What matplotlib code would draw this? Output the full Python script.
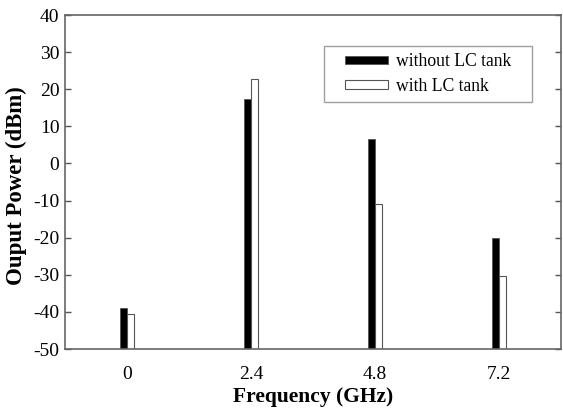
import matplotlib
matplotlib.use("Agg")
import matplotlib.pyplot as plt
from matplotlib.patches import Rectangle
from matplotlib.container import BarContainer
from matplotlib.legend_handler import HandlerPatch, update_from_first_child
import numpy as np

categories = ["0", "2.4", "4.8", "7.2"]
without_lc = [-39, 17.5, 6.6, -20.2]
with_lc = [-40.5, 22.8, -10.8, -30.3]
yticks = [-50, -40, -30, -20, -10, 0, 10, 20, 30, 40]

plt.rcParams['font.family'] = ['Liberation Serif', 'DejaVu Serif']
plt.rcParams['axes.unicode_minus'] = False

fig = plt.figure(figsize=(5.63, 4.09), dpi=100)
ax = fig.add_axes([65/563, 1 - 349/409, (561-65)/563, (349-15)/409])

x = np.arange(1, len(categories) + 1)
w = 0.06
ax.bar(x - w/2, [v + 50 for v in without_lc], width=w, bottom=-50, color='black',
       edgecolor='#555555', linewidth=0.6, label='without LC tank   ')
ax.bar(x + w/2, [v + 50 for v in with_lc], width=w, bottom=-50, color='white',
       edgecolor='#555555', linewidth=0.8, label='with LC tank')

ax.set_xlim(0.5, 4.5)
ax.set_ylim(-50, 40)
ax.set_xticks(x)
ax.set_xticklabels(categories)
ax.set_yticks(yticks)
ax.tick_params(axis='y', direction='in', length=4, width=1, color='#555555',
               right=True, labelsize=14, pad=4)
ax.tick_params(axis='x', length=0, labelsize=14, pad=12)
for s in ax.spines.values():
    s.set_color('#666666')
    s.set_linewidth(1.2)

ax.set_xlabel('Frequency (GHz)', fontsize=15.5, fontweight='bold', labelpad=3)
ax.set_ylabel('Ouput Power (dBm)', fontsize=16.5, fontweight='bold', labelpad=2)
ax.yaxis.set_label_coords(-0.077, 0.49)


def offset_patch(legend, orig_handle, xdescent, ydescent, width, height, fontsize):
    off = 14 * 72 / 100.0  # points
    return Rectangle((-xdescent + off, -ydescent), width - off, height)


handler = HandlerPatch(patch_func=offset_patch, update_func=update_from_first_child)
leg = ax.legend(loc='upper right', bbox_to_anchor=((532-65)/496, (349-46)/334),
                fontsize=12.7, frameon=True, fancybox=False, edgecolor='#888888',
                handlelength=3.24, handleheight=0.35, handletextpad=0.45,
                borderpad=0.42, labelspacing=0.42, borderaxespad=0,
                handler_map={BarContainer: handler})
leg.get_frame().set_linewidth(1.0)

fig.savefig('out.png', dpi=100)
